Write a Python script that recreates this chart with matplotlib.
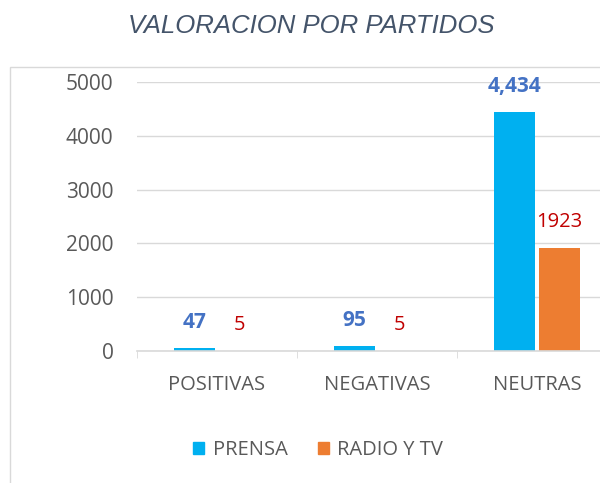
import numpy as np
import matplotlib.pyplot as plt
from matplotlib.patches import Rectangle, Patch

categorias = ["POSITIVAS", "NEGATIVAS", "NEUTRAS"]
prensa = [47, 95, 4434]
radio_tv = [5, 5, 1923]
etiquetas_prensa = ["47", "95", "4,434"]
etiquetas_radio = ["5", "5", "1923"]

plt.rcParams['font.family'] = ['Open Sans', 'DejaVu Sans']

gris = "#595959"
fig = plt.figure(figsize=(6, 4.83), dpi=100)
ax = fig.add_axes([137/600, 1-351/483, 463/600, (351-82)/483])

x = np.arange(len(categorias))
ancho = 0.256
desp = 0.14
ax.bar(x - desp, prensa, ancho, color="#00B0F0", label="PRENSA")
ax.bar(x + desp, radio_tv, ancho, color="#ED7D31", label="RADIO Y TV")

for i in range(len(categorias)):
    ax.annotate(etiquetas_prensa[i], (x[i] - desp, prensa[i]), xytext=(0, 18.5),
                textcoords="offset points", ha="center", va="center",
                color="#4472C4", fontsize=15, fontweight="bold")
    ax.annotate(etiquetas_radio[i], (x[i] + desp, radio_tv[i]), xytext=(0, 18.5),
                textcoords="offset points", ha="center", va="center",
                color="#C00000", fontsize=14.5)

ax.set_yticks([0, 1000, 2000, 3000, 4000, 5000])
ax.grid(axis="y", color="#D9D9D9", linewidth=1)
ax.set_axisbelow(True)
for s in ["top", "right", "left"]:
    ax.spines[s].set_visible(False)
ax.spines["bottom"].set_color("#D9D9D9")
ax.spines["bottom"].set_linewidth(1.2)

ax.set_xticks(x)
ax.set_xticklabels(categorias)
ax.set_xticks([-0.5, 0.5, 1.5, 2.5], minor=True)
ax.tick_params(axis="x", which="major", length=0, pad=17, labelsize=14.5, labelcolor=gris)
ax.tick_params(axis="x", which="minor", length=5, color="#D9D9D9")
ax.tick_params(axis="y", length=0, pad=17, labelsize=15, labelcolor=gris)
# limites despues de los ticks para que no se amplien
ax.set_xlim(-0.5, -0.5 + 463/160)
ax.set_ylim(0, 5000)

fig.text(311/600, 1-26/483, "VALORACION POR PARTIDOS", ha="center", va="center",
         fontsize=18.5, style="italic", color="#44546A", family="Liberation Sans")

fig.add_artist(Rectangle((10/600, -0.1), 1.2, 1-67/483+0.1, transform=fig.transFigure,
                         fill=False, edgecolor="#D9D9D9", linewidth=1))

handles = [Patch(color="#00B0F0", label="PRENSA"), Patch(color="#ED7D31", label="RADIO Y TV")]
fig.legend(handles=handles, loc="center", bbox_to_anchor=(318/600, 1-450/483), ncol=2,
           frameon=False, handlelength=0.55, handleheight=0.55, handletextpad=0.4,
           columnspacing=1.5, labelcolor=gris, prop={"size": 14.5})

fig.savefig("out.png", dpi=100)
